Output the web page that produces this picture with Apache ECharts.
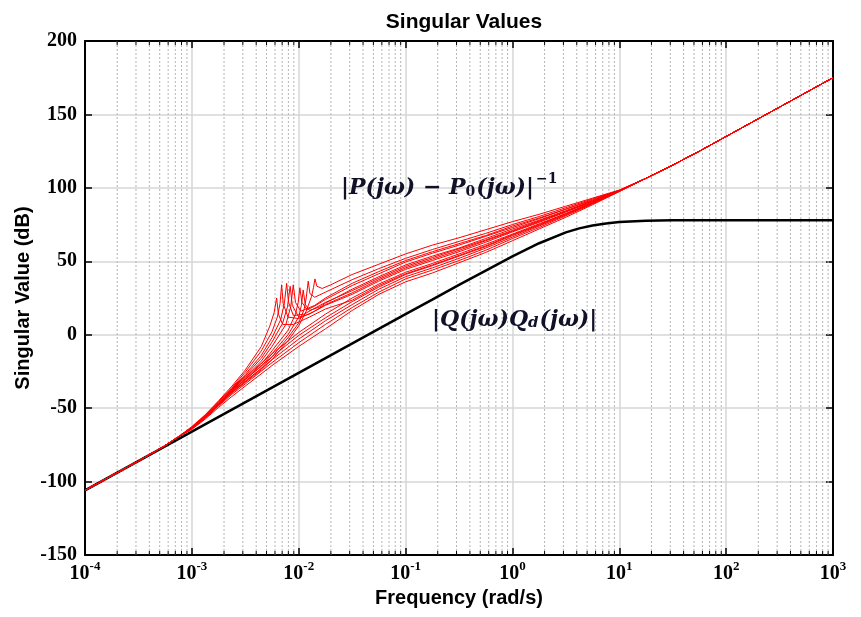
<!DOCTYPE html>
<html>
<head>
<meta charset="utf-8">
<script src="https://cdn.jsdelivr.net/npm/echarts/dist/echarts.min.js"></script>
<style>html,body{margin:0;padding:0;background:#fff;}#c{width:861px;height:617px;}</style>
</head>
<body>
<div id="c"></div>
<script>
// ---------- data ----------
const xMinExp = -4, xMaxExp = 3;
const yMin = -150, yMax = 200, yStep = 50;
const minorMultipliers = [2,3,4,5,6,7,8,9];

// |Q(jw)Qd(jw)|  : [log10(freq)] and dB
const blackLogFreq = [-4,-3,-2,-1,-0.75,-0.5,-0.25,0,0.25,0.5,0.625,0.75,0.875,1,1.25,1.5,2,3];
const blackDb      = [-106,-66,-26,14,23.9,33.9,43.7,53.4,62.3,69.7,72.4,74.4,75.8,76.7,77.6,77.9,78,78];

// |P(jw)-P0(jw)|^-1 family : [log10(freq), dB]
const redLowShared  = [[-4,-106],[-3.5,-86],[-3.25,-75.5],[-3.125,-69.5]];
const redHighShared = [[1.25,106.5],[1.5,115.5],[1.75,125],[2,135],[2.5,155],[3,175]];

const redS1 = [[-3,-64.5],[-2.875,-57.5],[-2.75,-49.5],[-2.625,-42],[-2.5,-35],[-2.25,-21],[-2,-8],[-1.75,4],[-1.5,16.5],[-1.25,27.5],[-1,36],[-0.75,42],[-0.5,49],[-0.25,56],[0,64],[0.25,72],[0.5,80],[0.75,88.5],[1,97.5]];
const redS2 = [[-3,-64],[-2.875,-57],[-2.75,-48.5],[-2.625,-40.5],[-2.5,-33.5],[-2.25,-19],[-2,-5.5],[-1.75,7],[-1.5,18.5],[-1.25,29],[-1,38],[-0.75,44],[-0.5,50.5],[-0.25,57.5],[0,65.5],[0.25,73],[0.5,81],[0.75,89],[1,97.5]];
const redS3 = [[-3,-64],[-2.875,-56.5],[-2.75,-48],[-2.625,-39.5],[-2.5,-32],[-2.25,-17],[-2,-3],[-1.75,9.5],[-1.5,20.5],[-1.25,31],[-1,39.5],[-0.75,45.5],[-0.5,52],[-0.25,59],[0,66.5],[0.25,74],[0.5,81.5],[0.75,89.5],[1,97.7]];
const redS4 = [[-3,-63.5],[-2.875,-56],[-2.75,-47.5],[-2.625,-38.5],[-2.5,-30.5],[-2.25,-15],[-2,-0.5],[-1.75,11.5],[-1.5,22.5],[-1.25,32.5],[-1,41],[-0.75,47],[-0.5,53.5],[-0.25,60],[0,67.5],[0.25,74.5],[0.5,82],[0.75,89.5],[1,97.8]];
const redS5 = [[-3,-63.5],[-2.875,-55.5],[-2.75,-47],[-2.625,-37.5],[-2.5,-29],[-2.25,-13],[-2,1.5],[-1.75,14],[-1.5,25],[-1.25,34.5],[-1,42.5],[-0.75,48.5],[-0.5,55],[-0.25,61.5],[0,68.5],[0.25,75.5],[0.5,82.5],[0.75,90],[1,97.9]];
const redC1 = [[-3,-62.5],[-2.875,-54.5],[-2.75,-45],[-2.625,-35],[-2.5,-24],[-2.35,-8],[-2.27,6],[-2.23,15],[-2.207,25],[-2.19,14],[-2.15,7],[-2.05,7],[-1.9,12],[-1.75,17.5],[-1.5,23.5],[-1.25,33.5],[-1,41.5],[-0.75,47.5],[-0.5,54],[-0.25,60.5],[0,68],[0.25,75],[0.5,82.5],[0.75,90],[1,97.8]];
const redC2 = [[-3,-63],[-2.875,-55],[-2.75,-45.5],[-2.625,-36],[-2.5,-25.5],[-2.35,-11],[-2.25,2],[-2.2,12],[-2.175,21],[-2.16,34],[-2.145,21],[-2.1,12],[-2,11],[-1.85,16],[-1.75,20],[-1.5,27.5],[-1.25,36.5],[-1,44.5],[-0.75,50.5],[-0.5,56.5],[-0.25,63],[0,70],[0.25,76.5],[0.5,83.5],[0.75,90.5],[1,98]];
const redC3 = [[-3,-63],[-2.875,-55],[-2.75,-46],[-2.625,-36.5],[-2.5,-27],[-2.35,-14],[-2.25,-2],[-2.17,10],[-2.135,21],[-2.113,35],[-2.095,22],[-2.05,13],[-1.95,14],[-1.75,22],[-1.5,30],[-1.25,38.5],[-1,46.5],[-0.75,52.5],[-0.5,58.5],[-0.25,64.5],[0,71],[0.25,77.5],[0.5,84],[0.75,91],[1,98]];
const redC4 = [[-3,-63],[-2.875,-55.5],[-2.75,-46.5],[-2.625,-37],[-2.5,-28],[-2.35,-16],[-2.25,-5],[-2.15,8],[-2.105,19],[-2.08,33],[-2.06,20],[-2,12],[-1.9,14],[-1.75,20.5],[-1.5,28.5],[-1.25,37.5],[-1,45.5],[-0.75,51.5],[-0.5,57.5],[-0.25,64],[0,70.5],[0.25,77],[0.5,84],[0.75,91],[1,98]];
const redC5 = [[-3,-63.5],[-2.875,-55.5],[-2.75,-47],[-2.625,-37.5],[-2.5,-29],[-2.35,-18],[-2.25,-8],[-2.12,7],[-2.075,19],[-2.051,34],[-2.03,22],[-1.98,16],[-1.85,20],[-1.75,25],[-1.5,35],[-1.25,43],[-1,50.5],[-0.75,56.5],[-0.5,62],[-0.25,67.5],[0,74],[0.25,79.5],[0.5,85.5],[0.75,92],[1,98.2]];
const redC6 = [[-3,-63.5],[-2.875,-56],[-2.75,-47.5],[-2.625,-38],[-2.5,-30],[-2.35,-20],[-2.25,-11],[-2.1,3],[-2.03,14],[-2.005,22],[-1.989,32],[-1.97,22],[-1.92,17],[-1.85,19.5],[-1.75,24],[-1.5,33.5],[-1.25,41.5],[-1,49.5],[-0.75,55.5],[-0.5,61],[-0.25,67],[0,73],[0.25,79],[0.5,85.5],[0.75,91.5],[1,98.2]];
const redC7 = [[-3,-63.5],[-2.875,-56],[-2.75,-47.5],[-2.625,-38.5],[-2.5,-30.5],[-2.35,-21.5],[-2.25,-13],[-2.1,0],[-2,12],[-1.975,20],[-1.958,30.5],[-1.94,21],[-1.9,16.5],[-1.8,19],[-1.75,21.5],[-1.5,31],[-1.25,39.5],[-1,47.5],[-0.75,53.5],[-0.5,59],[-0.25,65.5],[0,72],[0.25,78],[0.5,84.5],[0.75,91],[1,98.1]];
const redC8 = [[-3,-64],[-2.875,-56],[-2.75,-48],[-2.625,-39],[-2.5,-31.5],[-2.35,-23],[-2.25,-15],[-2.1,-2],[-2,8],[-1.95,17],[-1.93,25],[-1.911,36.5],[-1.895,28],[-1.85,25.5],[-1.75,29],[-1.5,37.5],[-1.25,45],[-1,52],[-0.75,58],[-0.5,63.5],[-0.25,69],[0,75],[0.25,80.5],[0.5,86.5],[0.75,92.5],[1,98.3]];
const redC9 = [[-3,-64],[-2.875,-56.5],[-2.75,-48],[-2.625,-39.5],[-2.5,-32.5],[-2.35,-24],[-2.25,-17],[-2.1,-4],[-2,6],[-1.93,16],[-1.88,26],[-1.862,32],[-1.848,38],[-1.83,33],[-1.78,31.5],[-1.7,34],[-1.5,41],[-1.25,48],[-1,55],[-0.75,61],[-0.5,66],[-0.25,71.5],[0,77],[0.25,82],[0.5,87.5],[0.75,93],[1,98.5]];

const redCurves = [redS1, redS2, redS3, redS4, redS5, redC1, redC2, redC3, redC4, redC5, redC6, redC7, redC8, redC9];

const titleText = 'Singular Values';
const xName = 'Frequency (rad/s)';
const yName = 'Singular Value (dB)';

// ---------- build ----------
const toFreq = (lf) => Math.pow(10, lf);
const minorFreqs = [];
for (let e = xMinExp; e < xMaxExp; e++) {
  minorMultipliers.forEach(m => minorFreqs.push([m * Math.pow(10, e), 0]));
}

const serif = 'Liberation Serif';
const mathSerif = 'DejaVu Serif';
const sans = 'Liberation Sans';

const axisBase = {
  type: 'log', logBase: 10, min: toFreq(xMinExp), max: toFreq(xMaxExp), splitNumber: 7
};

const series = [];
series.push({
  type: 'custom', coordinateSystem: 'cartesian2d', silent: true, z: 1,
  data: minorFreqs,
  renderItem: function (params, api) {
    const x = api.value(0);
    const top = api.coord([x, yMax]);
    const bot = api.coord([x, yMin]);
    return {
      type: 'group',
      children: [
        {type: 'line', shape: {x1: top[0], y1: top[1], x2: bot[0], y2: bot[1]},
         style: {stroke: '#b4b4b4', lineWidth: 1, lineDash: [2, 2]}},
        {type: 'line', shape: {x1: top[0], y1: top[1], x2: top[0], y2: top[1] + 4},
         style: {stroke: '#000', lineWidth: 1}},
        {type: 'line', shape: {x1: bot[0], y1: bot[1], x2: bot[0], y2: bot[1] - 4},
         style: {stroke: '#000', lineWidth: 1}}
      ]
    };
  }
});

series.push({
  type: 'line', name: 'Q', z: 4, showSymbol: false, symbol: 'none', silent: true,
  data: blackLogFreq.map((lf, i) => [toFreq(lf), blackDb[i]]),
  lineStyle: {color: '#000', width: 2.5}
});

redCurves.forEach(c => {
  const pts = redLowShared.concat(c, redHighShared).map(p => [toFreq(p[0]), p[1]]);
  series.push({
    type: 'line', z: 5, showSymbol: false, symbol: 'none', silent: true,
    data: pts, lineStyle: {color: '#ff0000', width: 1}
  });
});

const chart = echarts.init(document.getElementById('c'), null, {renderer: 'canvas'});
chart.setOption({
  animation: false,
  backgroundColor: '#fff',
  title: {
    text: titleText, left: 459, top: 7, textAlign: 'center',
    textStyle: {fontFamily: sans, fontWeight: 'bold', fontSize: 21, color: '#000'}
  },
  grid: {left: 85, right: 28, top: 41, bottom: 62, containLabel: false},
  xAxis: [
    Object.assign({}, axisBase, {
      position: 'bottom',
      name: xName, nameLocation: 'middle', nameGap: 33,
      nameTextStyle: {fontFamily: sans, fontWeight: 'bold', fontSize: 20, color: '#000'},
      axisLine: {show: true, onZero: false, lineStyle: {color: '#000', width: 2}},
      axisTick: {show: true, inside: true, length: 7, lineStyle: {color: '#000', width: 1.5}},
      splitLine: {show: true, lineStyle: {color: '#d6d6d6', width: 1.5}},
      axisLabel: {
        margin: 5,
        formatter: function (v) {
          const e = Math.round(Math.log10(v));
          return '{b|10}{e|' + e + '}';
        },
        rich: {
          b: {fontFamily: serif, fontWeight: 'bold', fontSize: 20, color: '#000', verticalAlign: 'bottom'},
          e: {fontFamily: serif, fontWeight: 'bold', fontSize: 13, color: '#000', verticalAlign: 'bottom', padding: [0, 0, 11, 0]}
        }
      }
    }),
    Object.assign({}, axisBase, {
      position: 'top',
      axisLine: {show: true, onZero: false, lineStyle: {color: '#000', width: 2}},
      axisTick: {show: true, inside: true, length: 7, lineStyle: {color: '#000', width: 1.5}},
      axisLabel: {show: false}, splitLine: {show: false}
    })
  ],
  yAxis: [
    {
      type: 'value', min: yMin, max: yMax, interval: yStep, position: 'left',
      name: yName, nameLocation: 'middle', nameGap: 52, nameMoveOverlap: false,
      nameTextStyle: {fontFamily: sans, fontWeight: 'bold', fontSize: 20, color: '#000'},
      axisLine: {show: true, onZero: false, lineStyle: {color: '#000', width: 2}},
      axisTick: {show: true, inside: true, length: 7, lineStyle: {color: '#000', width: 1.5}},
      splitLine: {show: true, lineStyle: {color: '#d6d6d6', width: 1.5}},
      axisLabel: {margin: 8, fontFamily: serif, fontWeight: 'bold', fontSize: 20, color: '#000'}
    },
    {
      type: 'value', min: yMin, max: yMax, interval: yStep, position: 'right',
      axisLine: {show: true, onZero: false, lineStyle: {color: '#000', width: 2}},
      axisTick: {show: true, inside: true, length: 7, lineStyle: {color: '#000', width: 1.5}},
      splitLine: {show: false}, axisLabel: {show: false}
    }
  ],
  graphic: [
    {
      type: 'text', x: 341, y: 186, z: 10, silent: true,
      style: {
        text: '{m||P(jω) − P}{s|0}{m|(jω)|}{p|−1}',
        verticalAlign: 'middle', align: 'left',
        rich: {
          m: {fontFamily: mathSerif, fontStyle: 'italic', fontWeight: 'bold', fontSize: 22, fill: '#101028', verticalAlign: 'bottom'},
          s: {fontFamily: mathSerif, fontStyle: 'normal', fontWeight: 'bold', fontSize: 14, fill: '#101028', verticalAlign: 'bottom', padding: [0, 1, 0, 0]},
          p: {fontFamily: mathSerif, fontWeight: 'bold', fontSize: 14, fill: '#101028', verticalAlign: 'bottom', padding: [0, 0, 13, 2]}
        }
      }
    },
    {
      type: 'text', x: 432, y: 320, z: 10, silent: true,
      style: {
        text: '{m||Q(jω)Q}{s|d}{m|(jω)|}',
        verticalAlign: 'middle', align: 'left',
        rich: {
          m: {fontFamily: mathSerif, fontStyle: 'italic', fontWeight: 'bold', fontSize: 22, fill: '#101028', verticalAlign: 'bottom'},
          s: {fontFamily: mathSerif, fontStyle: 'italic', fontWeight: 'bold', fontSize: 15, fill: '#101028', verticalAlign: 'bottom', padding: [0, 1, 0, 0]}
        }
      }
    }
  ],
  series: series
});
</script>
</body>
</html>
